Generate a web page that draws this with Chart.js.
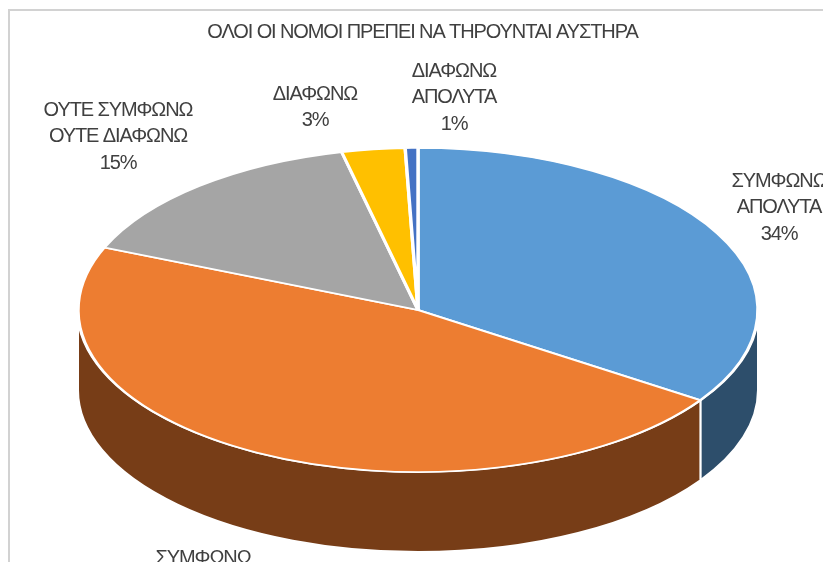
<!DOCTYPE html>
<html>
<head>
<meta charset="utf-8">
<style>
  html, body { margin: 0; padding: 0; background: #fff; overflow: hidden; }
  #wrap { position: relative; width: 823px; height: 562px; }
  #frame { position: absolute; left: 8px; top: 9px; right: 0; bottom: 0; border-left: 2px solid #d2d2d2; border-top: 2px solid #d2d2d2; }
  canvas { position: absolute; left: 0; top: 0; }
</style>
<script src="https://cdn.jsdelivr.net/npm/chart.js@4/dist/chart.umd.min.js"></script>
</head>
<body>
<div id="wrap">
  <div id="frame"></div>
  <canvas id="pie3d"></canvas>
</div>
<script>
const chartTitle = "ΟΛΟΙ ΟΙ ΝΟΜΟΙ ΠΡΕΠΕΙ ΝΑ ΤΗΡΟΥΝΤΑΙ ΑΥΣΤΗΡΑ";
const categories = [
  ["ΣΥΜΦΩΝΩ", "ΑΠΟΛΥΤΑ"],
  ["ΣΥΜΦΩΝΩ"],
  ["ΟΥΤΕ ΣΥΜΦΩΝΩ", "ΟΥΤΕ ΔΙΑΦΩΝΩ"],
  ["ΔΙΑΦΩΝΩ"],
  ["ΔΙΑΦΩΝΩ", "ΑΠΟΛΥΤΑ"]
];
const values = [34.4, 46.9, 15.1, 3.0, 0.6];
const topColors = ["#5b9bd5", "#ed7d31", "#a5a5a5", "#ffc000", "#4472c4"];
const sideColors = ["#2d4e6b", "#773d17", "#535353", "#806000", "#223962"];

// where the pie sits on the page once it is tilted
const pieX = 418, pieY = 310, pieRx = 340, pieRy = 162, pieDepth = 80;
// centre of the first line of each data label
const labelSpots = [[779, 181], [203, 558], [118, 110], [315, 94], [454, 71]];
const labelLineHeight = 26.5;
const textColor = "#404040";

const tiltPlugin = {
  id: "tilt",
  beforeDraw(chart) {
    // excel squeezes its letters, so the title gets this too
    chart.ctx.letterSpacing = "-1.1px";
  },
  beforeDatasetsDraw(chart) {
    const ctx = chart.ctx;
    const arcs = chart.getDatasetMeta(0).data;
    arcs.forEach((arc, i) => {
      const a0 = Math.max(arc.startAngle, 0);
      const a1 = Math.min(arc.endAngle, Math.PI);
      if (a1 <= a0) return;
      ctx.beginPath();
      ctx.ellipse(pieX, pieY, pieRx, pieRy, 0, a0, a1);
      ctx.ellipse(pieX, pieY + pieDepth, pieRx, pieRy, 0, a1, a0, true);
      ctx.closePath();
      ctx.fillStyle = sideColors[i];
      ctx.fill();
      ctx.strokeStyle = "#fff";
      ctx.lineWidth = 2;
      ctx.stroke();
    });
    const first = arcs[0];
    ctx.save();
    ctx.translate(pieX, pieY);
    ctx.scale(pieRx / first.outerRadius, pieRy / first.outerRadius);
    ctx.translate(-first.x, -first.y);
  },
  afterDatasetsDraw(chart) {
    const ctx = chart.ctx;
    ctx.restore();
    ctx.save();
    ctx.font = '20px "Liberation Sans", Arial, sans-serif';
    ctx.letterSpacing = "-1.1px";
    ctx.fillStyle = textColor;
    ctx.textAlign = "center";
    ctx.textBaseline = "middle";
    categories.forEach((lines, i) => {
      const [x, y] = labelSpots[i];
      const all = lines.concat(Math.round(values[i]) + "%");
      all.forEach((line, n) => ctx.fillText(line, x, y + n * labelLineHeight));
    });
    ctx.restore();
  }
};

new Chart(document.getElementById("pie3d"), {
  type: "pie",
  data: {
    labels: categories,
    datasets: [{
      data: values,
      backgroundColor: topColors,
      borderColor: "#fff",
      borderWidth: 2.5
    }]
  },
  options: {
    responsive: true,
    maintainAspectRatio: false,
    animation: false,
    events: [],
    layout: { padding: { left: 100, right: 78, top: 0, bottom: 4 } },
    plugins: {
      legend: { display: false },
      tooltip: { enabled: false },
      title: {
        display: true,
        text: chartTitle,
        color: textColor,
        font: { family: '"Liberation Sans", Arial, sans-serif', size: 20, weight: "normal" },
        padding: { top: 20, bottom: 10 }
      }
    }
  },
  plugins: [tiltPlugin]
});
</script>
</body>
</html>
